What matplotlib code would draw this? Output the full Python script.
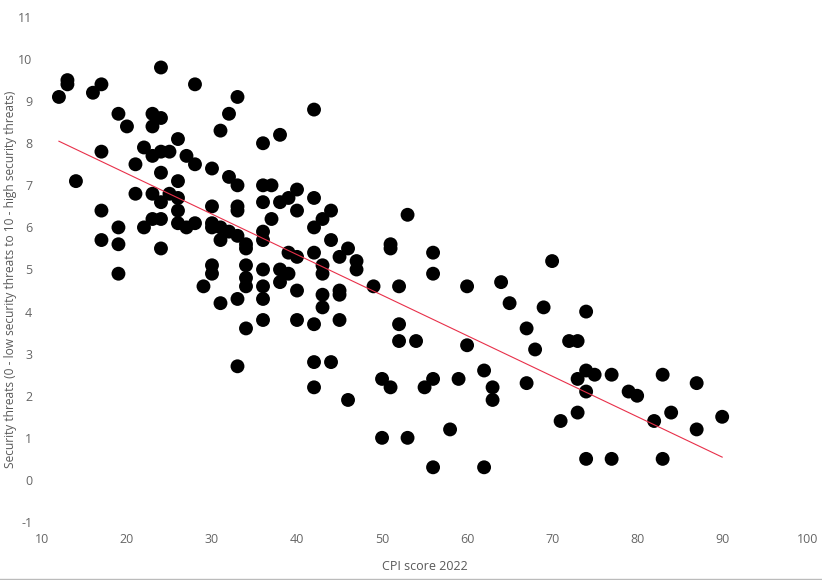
import numpy as np
import matplotlib.pyplot as plt
from matplotlib.lines import Line2D

plt.rcParams['font.family'] = ['Open Sans', 'DejaVu Sans']
plt.rcParams['axes.unicode_minus'] = False

# CPI score 2022 (x) and security threats indicator (y)
cpi = [12, 13, 13, 14, 16, 17, 17, 17, 17, 19, 19, 19, 19, 20, 21, 21, 22, 22,
       23, 23, 23, 23, 23, 24, 24, 24, 24, 24, 24, 24, 25, 25, 26, 26, 26, 26,
       26, 27, 27, 28, 28, 28, 29, 30, 30, 30, 30, 30, 30, 31, 31, 31, 31, 32,
       32, 32, 33, 33, 33, 33, 33, 33, 33, 34, 34, 34, 34, 34, 34, 36, 36, 36,
       36, 36, 36, 36, 36, 36, 37, 37, 38, 38, 38, 38, 39, 39, 39, 40, 40, 40,
       40, 40, 42, 42, 42, 42, 42, 42, 42, 43, 43, 43, 43, 43, 44, 44, 44, 45,
       45, 45, 45, 46, 46, 47, 47, 49, 50, 50, 51, 51, 51, 52, 52, 52, 53, 53,
       54, 55, 56, 56, 56, 56, 58, 59, 60, 60, 62, 62, 63, 63, 64, 65, 67, 67,
       68, 69, 70, 71, 72, 73, 73, 73, 74, 74, 74, 74, 75, 77, 77, 79, 80, 82,
       83, 83, 84, 87, 87, 90]
threats = [9.1, 9.5, 9.4, 7.1, 9.2, 9.4, 7.8, 6.4, 5.7, 8.7, 6.0, 5.6, 4.9, 8.4,
           7.5, 6.8, 7.9, 6.0, 8.7, 8.4, 7.7, 6.8, 6.2, 9.8, 8.6, 7.8, 7.3, 6.6,
           6.2, 5.5, 7.8, 6.8, 8.1, 7.1, 6.7, 6.4, 6.1, 7.7, 6.0, 9.4, 7.5, 6.1,
           4.6, 7.4, 6.5, 6.1, 6.0, 5.1, 4.9, 8.3, 6.0, 5.7, 4.2, 8.7, 7.2, 5.9,
           9.1, 7.0, 6.5, 6.4, 5.8, 4.3, 2.7, 5.6, 5.5, 5.1, 4.8, 4.6, 3.6, 8.0,
           7.0, 6.6, 5.9, 5.7, 5.0, 4.6, 4.3, 3.8, 7.0, 6.2, 8.2, 6.6, 5.0, 4.7,
           6.7, 5.4, 4.9, 6.9, 6.4, 5.3, 4.5, 3.8, 8.8, 6.7, 6.0, 5.4, 3.7, 2.8,
           2.2, 6.2, 5.1, 4.9, 4.4, 4.1, 6.4, 5.7, 2.8, 5.3, 4.5, 4.4, 3.8, 5.5,
           1.9, 5.2, 5.0, 4.6, 2.4, 1.0, 5.6, 5.5, 2.2, 4.6, 3.7, 3.3, 6.3, 1.0,
           3.3, 2.2, 5.4, 4.9, 2.4, 0.3, 1.2, 2.4, 4.6, 3.2, 2.6, 0.3, 2.2, 1.9,
           4.7, 4.2, 3.6, 2.3, 3.1, 4.1, 5.2, 1.4, 3.3, 3.3, 2.4, 1.6, 4.0, 2.6,
           2.1, 0.5, 2.5, 2.5, 0.5, 2.1, 2.0, 1.4, 2.5, 0.5, 1.6, 2.3, 1.2, 1.5]

x_ticks = list(range(10, 101, 10))
y_ticks = list(range(-1, 12))

x = np.array(cpi)
y = np.array(threats)

# linear trend line
slope, intercept = np.polyfit(x, y, 1)
x_fit = np.array([x.min(), x.max()])
y_fit = slope * x_fit + intercept

fig = plt.figure(figsize=(8.22, 5.8), dpi=100)
ax = fig.add_axes([0.051, 0.1, 0.931, 0.8707])

ax.scatter(x, y, s=100, color='black', edgecolors='none', zorder=2)
ax.plot(x_fit, y_fit, color='#e8304a', linewidth=0.8, zorder=3)

ax.set_xlim(10, 100)
ax.set_ylim(-1, 11)
ax.set_xticks(x_ticks)
ax.set_yticks(y_ticks)

for side in ['top', 'right', 'bottom', 'left']:
    ax.spines[side].set_visible(False)
ax.tick_params(length=0, labelsize=9, colors='#666666')
ax.tick_params(axis='y', pad=7)
ax.tick_params(axis='x', pad=8)

ax.set_xlabel('CPI score 2022', fontsize=9, color='#595959', labelpad=10)
ax.set_ylabel('Security threats (0 - low security threats to 10 - high security threats)',
              fontsize=8.6, color='#595959', va='center')
ax.yaxis.set_label_coords(-0.041, 0.48)

# thin grey rule at the very bottom of the image
fig.add_artist(Line2D([0, 1], [0.002, 0.002], color='#bbbbbb', linewidth=1))

fig.savefig('out.png', dpi=100)
